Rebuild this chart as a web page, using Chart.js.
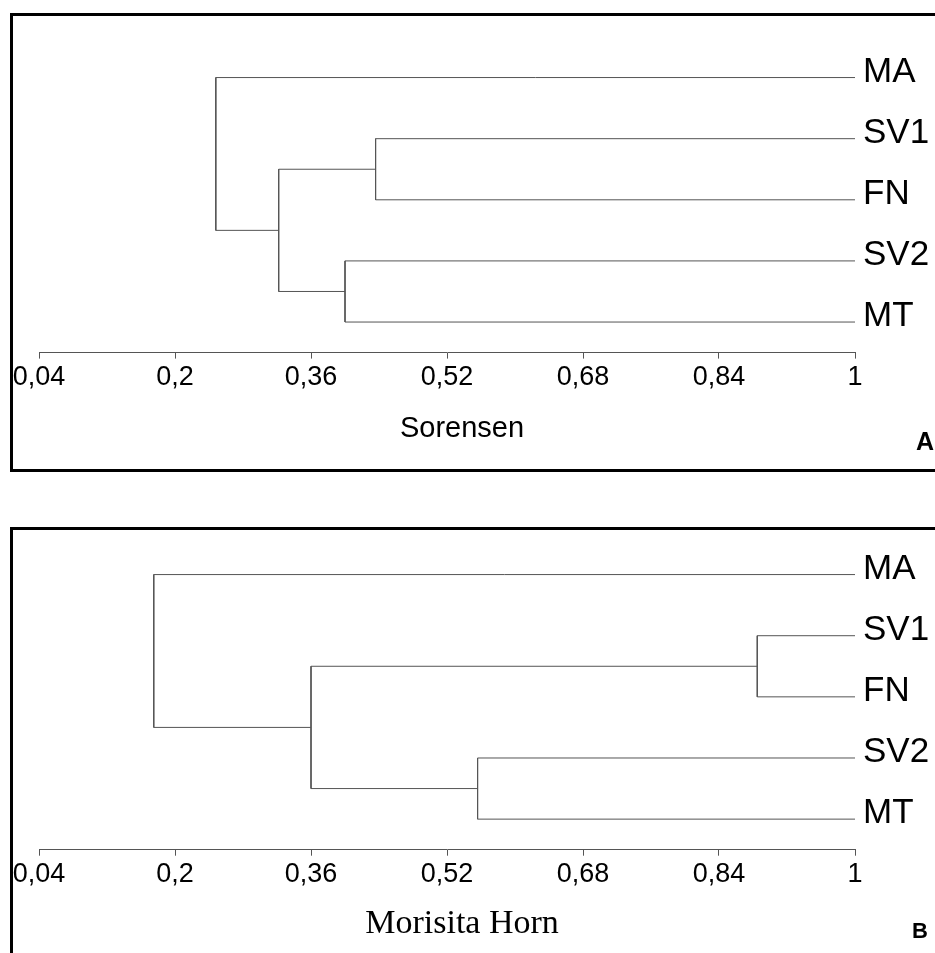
<!DOCTYPE html>
<html>
<head>
<meta charset="utf-8">
<script src="https://cdn.jsdelivr.net/npm/chart.js@4.4.1/dist/chart.umd.min.js"></script>
<style>
  html, body { margin: 0; padding: 0; background: #fff; width: 935px; height: 953px; overflow: hidden; }
  .panel { position: absolute; left: 10px; width: 1000px; border: 3px solid #000; box-sizing: border-box; }
  #panelA { top: 13px; height: 459px; }
  #panelB { top: 527px; height: 500px; }
  canvas { position: absolute; left: -11px; }
  #chartA { top: 0; }
  #chartB { top: 497px; }
  .tag { position: absolute; font-family: "Liberation Sans", Arial, sans-serif; font-weight: bold; color: #000; line-height: 1; }
  #tagA { left: 916px; top: 429px; font-size: 25px; }
  #tagB { left: 912px; top: 920px; font-size: 22px; }
</style>
</head>
<body>
<div class="panel" id="panelA"></div>
<div class="panel" id="panelB"></div>
<canvas id="chartA" width="946" height="470"></canvas>
<canvas id="chartB" width="946" height="470"></canvas>
<div class="tag" id="tagA">A</div>
<div class="tag" id="tagB">B</div>

<script>
// --- Dane ---
const leafLabels = ['MA', 'SV1', 'FN', 'SV2', 'MT'];
// kolejne połączenia: indeksy 0-4 to liście, 5+ to wcześniejsze połączenia
const mergePairs = [[1, 2], [3, 4], [5, 6], [0, 7]];
const sorensenLevels = [0.436, 0.400, 0.322, 0.248];
const morisitaLevels = [0.885, 0.556, 0.360, 0.175];
const axisTicks = [0.04, 0.2, 0.36, 0.52, 0.68, 0.84, 1];

const SANS = '"Liberation Sans", Arial, sans-serif';
const SERIF = '"Liberation Serif", "Times New Roman", serif';

// Każde połączenie to łamana: dziecko A -> poziom -> poziom -> dziecko B
function buildLinks(levels) {
  const nodeX = leafLabels.map(() => 1);
  const nodeY = leafLabels.map((_, i) => leafLabels.length - 1 - i);
  return mergePairs.map(([a, b], k) => {
    const h = levels[k];
    const ya = nodeY[a], yb = nodeY[b];
    const data = [{ x: nodeX[a], y: ya }, { x: h, y: ya }, { x: h, y: yb }, { x: nodeX[b], y: yb }];
    nodeX.push(h);
    nodeY.push((ya + yb) / 2);
    return {
      data: data,
      showLine: true,
      borderColor: '#555',
      borderWidth: 1,
      pointRadius: 0,
      tension: 0
    };
  });
}

function drawDendrogram(canvasId, levels, title, titleFont, titlePadTop, padBottom) {
  new Chart(document.getElementById(canvasId), {
    type: 'scatter',
    data: { datasets: buildLinks(levels) },
    options: {
      responsive: false,
      animation: false,
      layout: { padding: { left: 0, right: 0, top: 47, bottom: padBottom } },
      plugins: {
        legend: { display: false },
        tooltip: { enabled: false },
        title: {
          display: true,
          position: 'bottom',
          text: title,
          color: '#000',
          font: titleFont,
          padding: { top: titlePadTop, bottom: 0 }
        }
      },
      scales: {
        x: {
          type: 'linear',
          min: 0.04,
          max: 1,
          afterBuildTicks: s => { s.ticks = axisTicks.map(v => ({ value: v })); },
          grid: { display: true, drawOnChartArea: false, drawTicks: true, tickLength: 6, color: '#555', lineWidth: 1 },
          border: { display: true, color: '#555', width: 1 },
          ticks: {
            padding: 3,
            color: '#000',
            maxRotation: 0,
            autoSkip: false,
            font: { family: SANS, size: 27 },
            callback: v => String(v).replace('.', ',')
          }
        },
        y: {
          position: 'right',
          min: -0.5,
          max: 4.5,
          afterBuildTicks: s => { s.ticks = leafLabels.map((_, i) => ({ value: i })); },
          afterFit: s => { s.width = 80; },
          grid: { display: false, drawTicks: false },
          border: { display: false },
          ticks: {
            padding: 8,
            labelOffset: -5.5,
            color: '#000',
            font: { family: SANS, size: 35 },
            callback: v => leafLabels[leafLabels.length - 1 - v]
          }
        },
        // pusty margines po lewej, żeby podpis osi był wyśrodkowany jak w panelu
        gutter: {
          position: 'left',
          afterFit: s => { s.width = 50; },
          grid: { display: false, drawTicks: false },
          border: { display: false },
          ticks: { display: false }
        }
      }
    }
  });
}

drawDendrogram('chartA', sorensenLevels, 'Sorensen', { family: SANS, size: 29, weight: 'normal' }, 14.9, 23.3);
drawDendrogram('chartB', morisitaLevels, 'Morisita Horn', { family: SERIF, size: 34, weight: 'normal' }, 9.6, 22.5);
</script>
</body>
</html>
